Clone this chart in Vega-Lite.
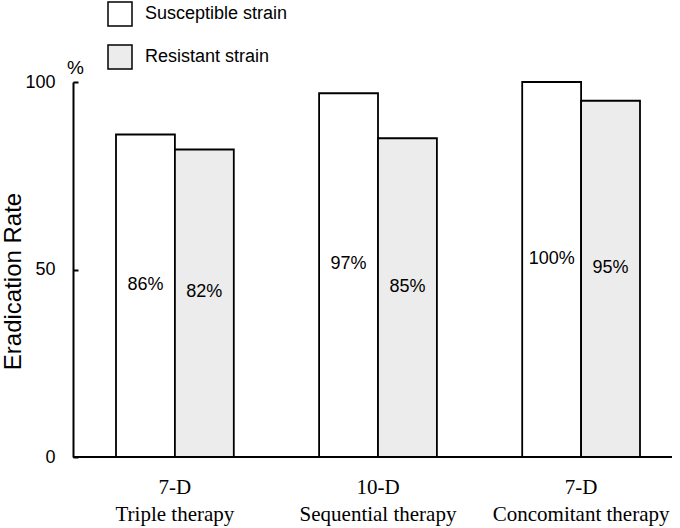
{
  "$schema": "https://vega.github.io/schema/vega-lite/v6.json",
  "width": 599,
  "height": 375,
  "autosize": "none",
  "padding": {"left": 73, "top": 82, "right": 8, "bottom": 71},
  "background": "white",
  "config": {
    "view": {"stroke": null},
    "font": "Liberation Sans",
    "axis": {"grid": false, "domainColor": "black", "tickColor": "black", "labelColor": "black", "titleColor": "black"}
  },
  "data": {
    "values": [
      {"regimen": "7-D|Triple therapy", "strain": "Susceptible strain", "rate": 86},
      {"regimen": "7-D|Triple therapy", "strain": "Resistant strain", "rate": 82},
      {"regimen": "10-D|Sequential therapy", "strain": "Susceptible strain", "rate": 97},
      {"regimen": "10-D|Sequential therapy", "strain": "Resistant strain", "rate": 85},
      {"regimen": "7-D|Concomitant therapy", "strain": "Susceptible strain", "rate": 100},
      {"regimen": "7-D|Concomitant therapy", "strain": "Resistant strain", "rate": 95}
    ]
  },
  "transform": [
    {"calculate": "datum.rate / 2", "as": "mid"},
    {"calculate": "datum.rate + '%'", "as": "pct"}
  ],
  "resolve": {"scale": {"y": "shared"}, "axis": {"y": "independent"}},
  "layer": [
    {
      "mark": {"type": "bar", "stroke": "black", "strokeWidth": 1.8},
      "encoding": {
        "x": {"field": "regimen", "type": "nominal", "sort": null,
          "scale": {"range": [43, 567], "paddingInner": 0.42, "paddingOuter": 0},
          "axis": {"title": null, "domain": false, "ticks": false, "labelAngle": 0, "labelFont": "Liberation Serif", "labelFontSize": 21, "labelLineHeight": 27, "labelPadding": 19, "labelExpr": "split(datum.label, '|')"}},
        "xOffset": {"field": "strain", "type": "nominal", "sort": ["Susceptible strain", "Resistant strain"], "scale": {"paddingInner": 0, "paddingOuter": 0}},
        "y": {"field": "rate", "type": "quantitative", "scale": {"domain": [0, 100], "nice": false},
          "axis": {"orient": "left", "title": "Eradication Rate", "values": [0, 50, 100], "tickSize": -5, "tickWidth": 2, "domainWidth": 2, "labelFontSize": 18, "labelPadding": 23, "titleFontSize": 24, "titleFontWeight": "normal", "titlePadding": -1, "titleY": 199}},
        "fill": {"field": "strain", "type": "nominal", "sort": ["Susceptible strain", "Resistant strain"],
          "scale": {"domain": ["Susceptible strain", "Resistant strain"], "range": ["white", "#ececec"]},
          "legend": {"title": null, "orient": "none", "legendX": 34, "legendY": -81, "padding": 0, "symbolType": "square", "symbolSize": 576, "symbolStrokeColor": "black", "symbolStrokeWidth": 1.5, "labelFontSize": 18, "labelOffset": 12, "rowPadding": 13, "labelColor": "black"}}
      }
    },
    {
      "mark": {"type": "text", "fontSize": 18, "dy": -11, "color": "black"},
      "encoding": {
        "x": {"field": "regimen", "type": "nominal", "sort": null},
        "xOffset": {"field": "strain", "type": "nominal", "sort": ["Susceptible strain", "Resistant strain"]},
        "y": {"field": "mid", "type": "quantitative", "axis": null},
        "text": {"field": "pct"}
      }
    },
    {
      "mark": {"type": "rule", "color": "black", "strokeWidth": 2},
      "encoding": {
        "y": {"datum": 0, "type": "quantitative",
          "axis": {"orient": "left", "title": "%", "domain": false, "ticks": false, "labels": false, "grid": false, "titleAngle": 0, "titleX": 2, "titleY": -9, "titleAlign": "center", "titleBaseline": "alphabetic", "titleFontSize": 19, "titleFontWeight": "normal"}}
      }
    }
  ]
}
